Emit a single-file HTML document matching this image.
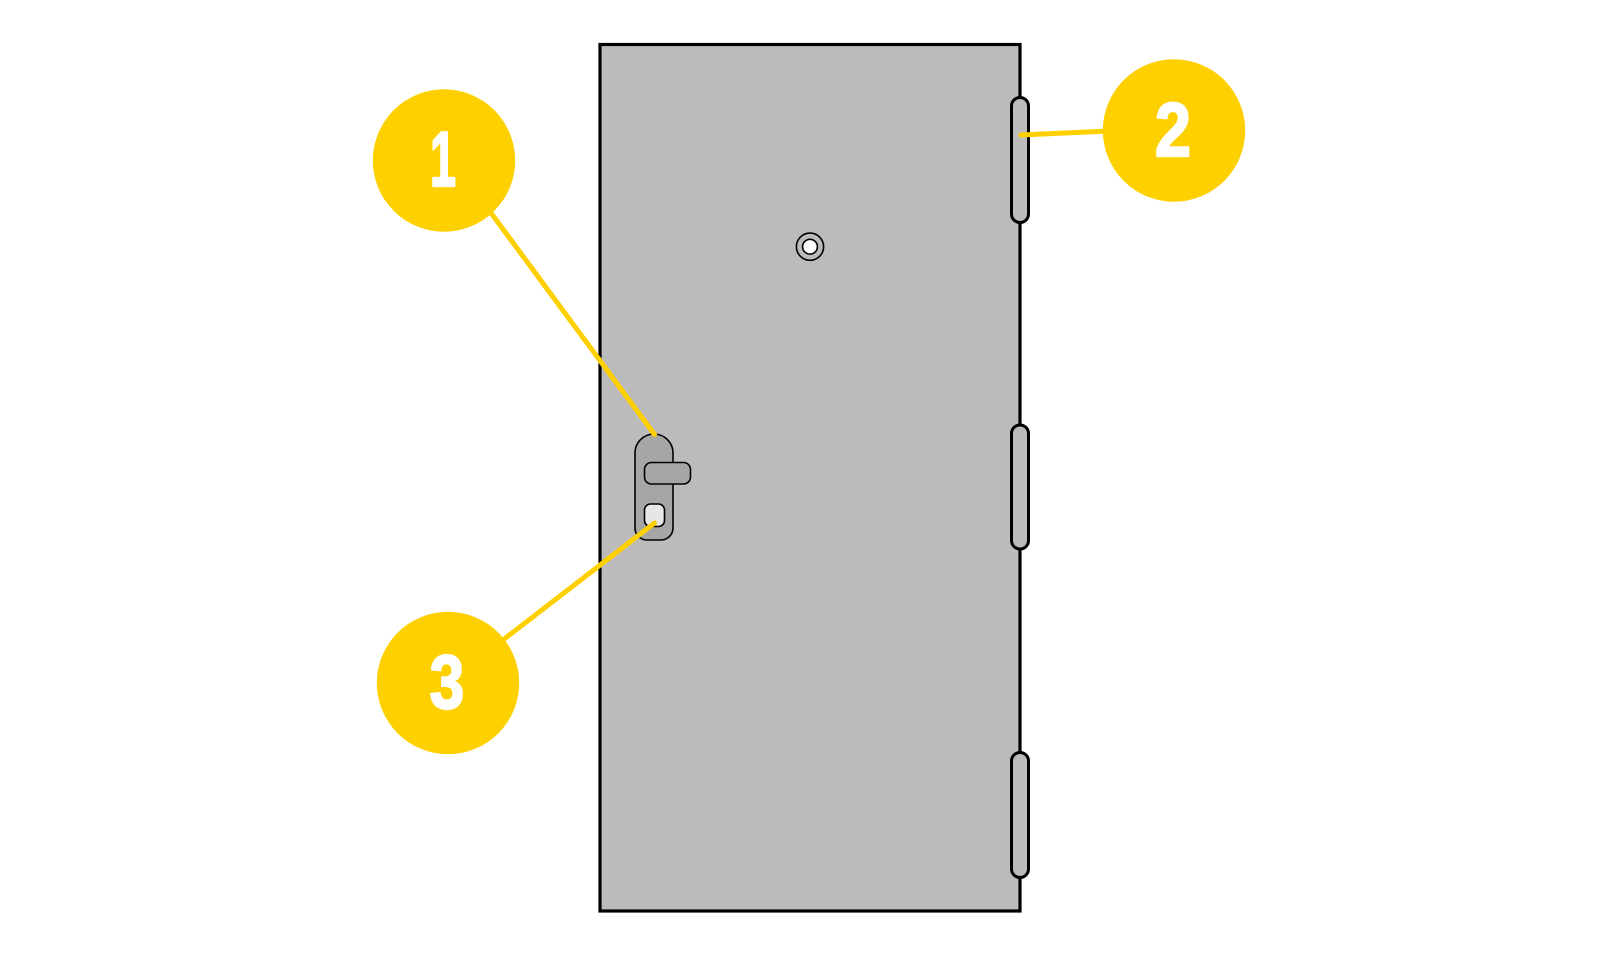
<!DOCTYPE html>
<html>
<head>
<meta charset="utf-8">
<style>
html,body{margin:0;padding:0;background:#ffffff;}
body{width:1600px;height:953px;overflow:hidden;}
svg{display:block;}
.num{font-family:"Liberation Sans Narrow","Liberation Sans",sans-serif;font-weight:bold;fill:#ffffff;stroke:#ffffff;stroke-width:2.2;stroke-linejoin:miter;text-anchor:middle;}
</style>
</head>
<body>
<svg width="1600" height="953" viewBox="0 0 1600 953" xmlns="http://www.w3.org/2000/svg">
  <rect x="0" y="0" width="1600" height="953" fill="#ffffff"/>
  <!-- door -->
  <rect x="600" y="44.5" width="420" height="866.5" fill="#bbbbbb" stroke="#000" stroke-width="3.2"/>
  <!-- hinges -->
  <rect x="1011.5" y="97.5" width="17" height="125" rx="8.5" ry="8.5" fill="#bbbbbb" stroke="#000" stroke-width="3"/>
  <rect x="1011.5" y="425" width="17" height="124" rx="8.5" ry="8.5" fill="#bbbbbb" stroke="#000" stroke-width="3"/>
  <rect x="1011.5" y="752.5" width="17" height="125" rx="8.5" ry="8.5" fill="#bbbbbb" stroke="#000" stroke-width="3"/>
  <!-- peephole -->
  <circle cx="810" cy="246.7" r="13.6" fill="#bbbbbb" stroke="#000" stroke-width="1.6"/>
  <circle cx="810" cy="246.7" r="7.4" fill="#ffffff" stroke="#000" stroke-width="1.6"/>
  <!-- lock plate -->
  <path d="M635,453 A19,19 0 0 1 673,453 L673,528 A12,12 0 0 1 661,540 L647,540 A12,12 0 0 1 635,528 Z" fill="#a6a6a6" stroke="#000" stroke-width="1.6"/>
  <rect x="644.5" y="462.5" width="46" height="21.5" rx="7" ry="7" fill="#a6a6a6" stroke="#000" stroke-width="1.6"/>
  <rect x="644.5" y="504" width="20" height="22.5" rx="6" ry="6" fill="#e6e6e6" stroke="#000" stroke-width="1.6"/>
  <!-- connectors -->
  <line x1="480" y1="198" x2="654.5" y2="434.5" stroke="#ffd000" stroke-width="5" stroke-linecap="round"/>
  <line x1="1021" y1="135" x2="1120" y2="130.5" stroke="#ffd000" stroke-width="5" stroke-linecap="round"/>
  <line x1="654.5" y1="523" x2="490" y2="650" stroke="#ffd000" stroke-width="5" stroke-linecap="round"/>
  <!-- callout circles -->
  <circle cx="444" cy="160.5" r="71.2" fill="#ffd000"/>
  <circle cx="1174" cy="130.5" r="71.2" fill="#ffd000"/>
  <circle cx="448" cy="683" r="71.2" fill="#ffd000"/>
  <text class="num" x="0" y="186" font-size="78" transform="translate(443,0) scale(0.6,1)">1</text>
  <text class="num" x="0" y="156" font-size="76" transform="translate(1173,0) scale(0.85,1)">2</text>
  <text class="num" x="0" y="708" font-size="76" transform="translate(447,0) scale(0.82,1)">3</text>
</svg>
</body>
</html>
